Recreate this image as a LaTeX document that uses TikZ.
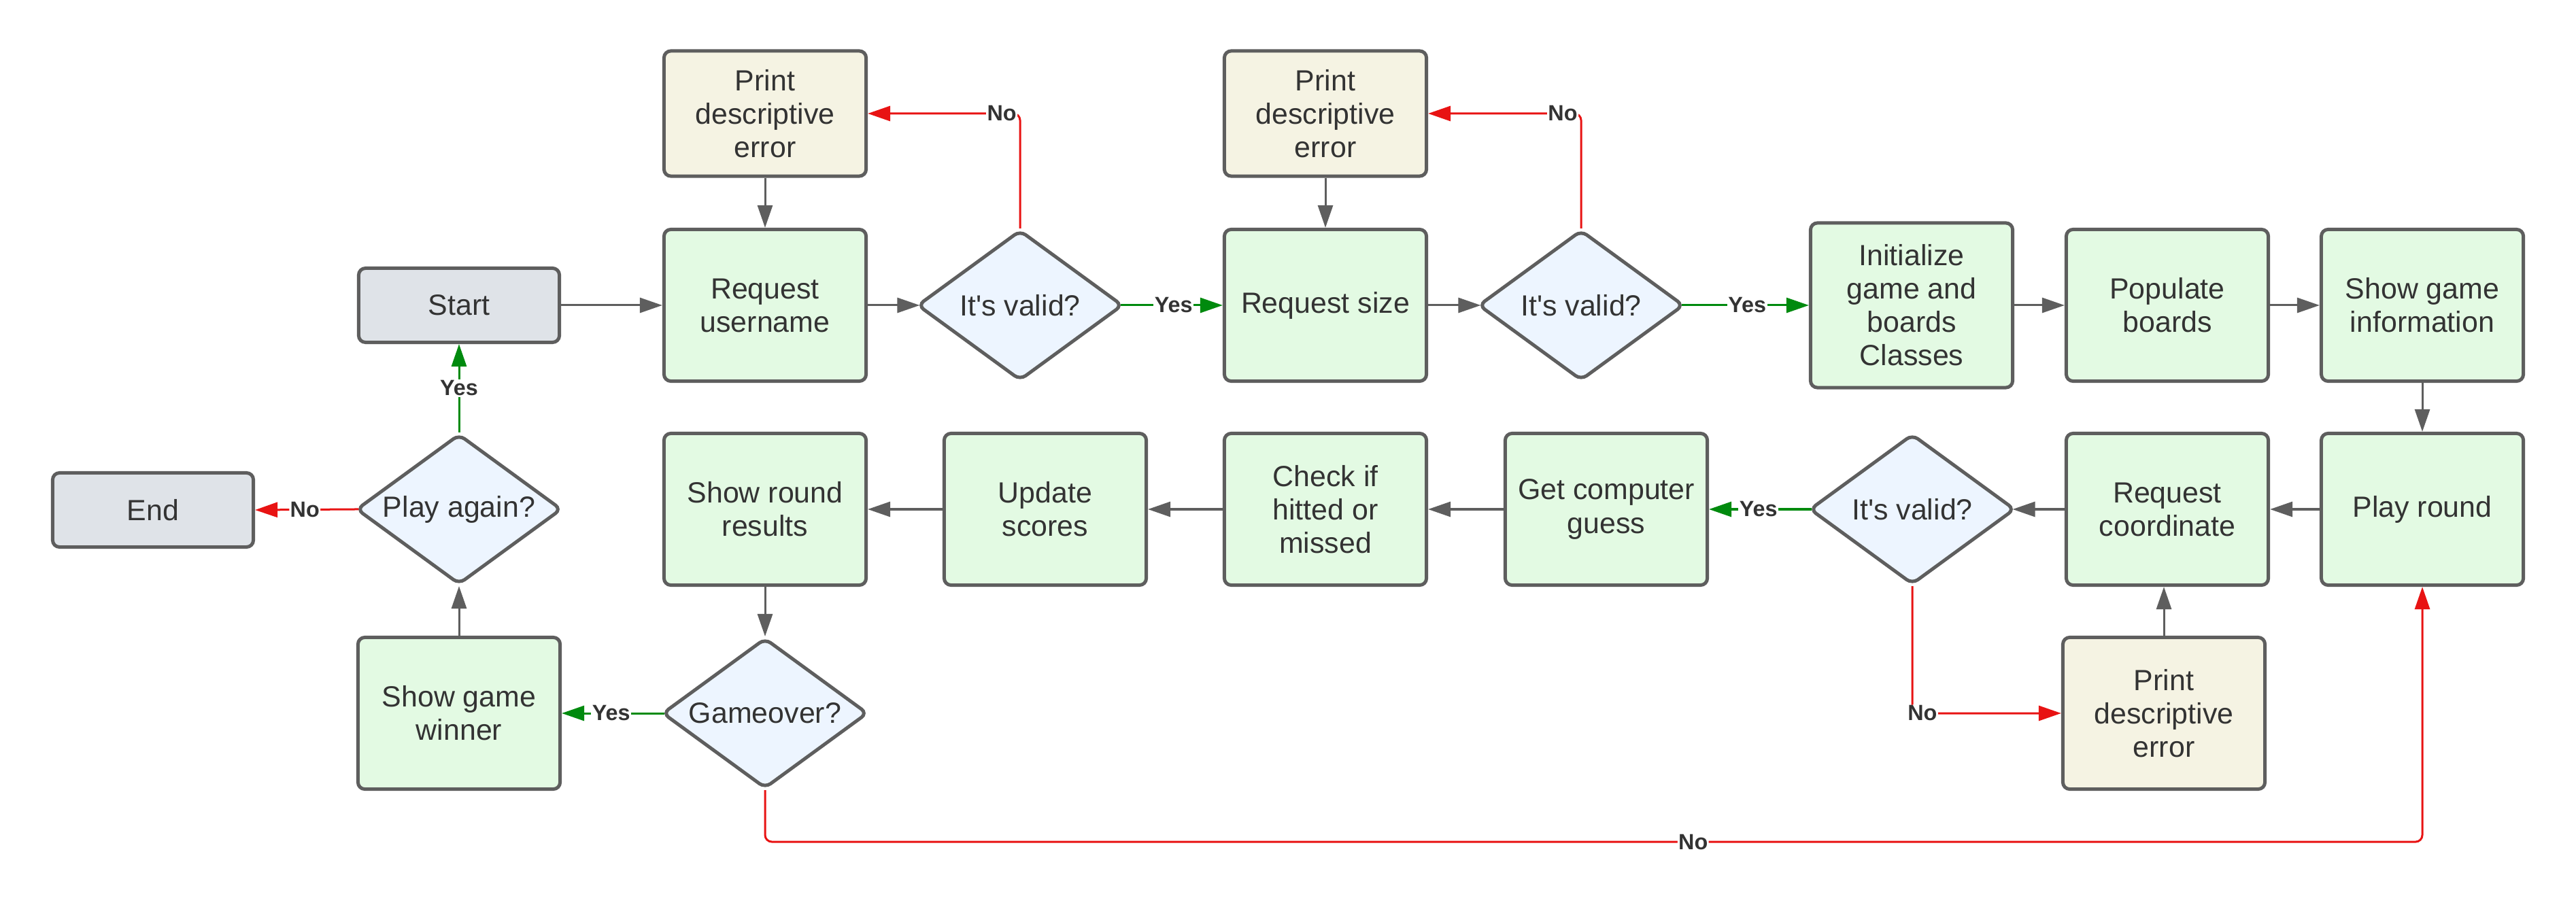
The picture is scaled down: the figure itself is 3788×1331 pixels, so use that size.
\documentclass[tikz,border=0pt]{standalone}
\usepackage{fontspec}
\setmainfont{Liberation Sans}
\usetikzlibrary{shapes.geometric,arrows.meta}
\definecolor{bordc}{HTML}{5E5E5E}
\definecolor{txtc}{HTML}{333333}
\definecolor{greenf}{HTML}{E3FAE3}
\definecolor{beigef}{HTML}{F5F3E3}
\definecolor{bluef}{HTML}{EDF5FF}
\definecolor{grayf}{HTML}{DFE3E8}
\definecolor{redc}{HTML}{E81313}
\definecolor{greenc}{HTML}{008A0E}
\newcommand\boxfont{\fontsize{12.2pt}{13.95pt}\selectfont}
\newcommand\lblfont{\fontsize{9.2pt}{10.5pt}\selectfont\bfseries}
\begin{document}
\begin{tikzpicture}[x=0.01cm,y=-0.01cm,
  box/.style={draw=bordc, line width=0.05cm, rounded corners=0.1cm, inner sep=0pt,
    align=center, text=txtc, font=\boxfont, minimum width=2.97cm, minimum height=2.23cm, fill=greenf},
  errbox/.style={box, fill=beigef},
  termbox/.style={box, fill=grayf, minimum width=2.95cm, minimum height=1.09cm},
  dia/.style={shape=diamond, draw=bordc, line width=0.05cm, rounded corners=0.1cm, inner sep=0pt,
    text=txtc, font=\boxfont, minimum width=3.02cm, minimum height=2.21cm, fill=bluef},
  arr/.style={draw=bordc, line width=0.03cm, -{Triangle[length=0.33cm,width=0.22cm]}},
  rarr/.style={arr, draw=redc, rounded corners=0.1cm},
  garr/.style={arr, draw=greenc},
  lbl/.style={fill=white, inner sep=0.4pt, text=txtc, font=\lblfont},
  fromtip/.style={shorten <=-0.06cm},
  totip/.style={shorten >=-0.06cm}]
\fill[white] (0,0) rectangle (3788,1331);
\useasboundingbox (0,0) rectangle (3788,1331);
% row 0
\node[errbox, minimum height=1.84cm] (e1) at (1125,167) {Print\\descriptive\\error};
\node[errbox, minimum height=1.84cm] (e2) at (1949,167) {Print\\descriptive\\error};
% row 1
\node[termbox] (start) at (675,449) {Start};
\node[box] (ru) at (1125,449) {Request\\username};
\node[dia] (d1) at (1500,449) {\makebox[0pt]{It\textquotesingle s valid?}};
\node[box] (rs) at (1949,449) {Request size};
\node[dia] (d2) at (2325,449) {\makebox[0pt]{It\textquotesingle s valid?}};
\node[box, minimum height=2.42cm] (init) at (2811,449) {Initialize\\game and\\boards\\Classes};
\node[box] (pop) at (3187,449) {Populate\\boards};
\node[box] (sgi) at (3562,449) {Show game\\information};
% row 2
\node[termbox] (end) at (225,750) {End};
\node[dia] (pa) at (675,749) {\makebox[0pt]{Play again?}};
\node[box] (srr) at (1125,749) {Show round\\results};
\node[box] (us) at (1537,749) {Update\\scores};
\node[box] (chk) at (1949,749) {Check if\\hitted or\\missed};
\node[box] (gcg) at (2362,749) {Get computer\\guess};
\node[dia] (d3) at (2812,749) {\makebox[0pt]{It\textquotesingle s valid?}};
\node[box] (rc) at (3187,749) {Request\\coordinate};
\node[box] (pr) at (3562,749) {Play round};
% row 3
\node[box] (sgw) at (675,1049) {Show game\\winner};
\node[dia] (go) at (1125,1049) {\makebox[0pt]{Gameover?}};
\node[errbox] (e3) at (3182,1049) {Print\\descriptive\\error};
% connectors
\draw[arr] (start.east) -- (ru.west);
\draw[arr] (e1.south) -- (ru.north);
\draw[arr, totip] (ru.east) -- (d1.west);
\draw[garr, fromtip] (d1.east) -- node[lbl]{Yes} (rs.west);
\draw[rarr] (d1.north) |- node[lbl, pos=0.56]{No} (e1.east);
\draw[arr] (e2.south) -- (rs.north);
\draw[arr, totip] (rs.east) -- (d2.west);
\draw[rarr] (d2.north) |- node[lbl, pos=0.56]{No} (e2.east);
\draw[garr, fromtip] (d2.east) -- node[lbl]{Yes} (init.west);
\draw[arr] (init.east) -- (pop.west);
\draw[arr] (pop.east) -- (sgi.west);
\draw[arr] (sgi.south) -- (pr.north);
\draw[arr] (pr.west) -- (rc.east);
\draw[arr, totip] (rc.west) -- (d3.east);
\draw[garr, fromtip] (d3.west) -- node[lbl]{Yes} (gcg.east);
\draw[rarr] (d3.south) |- node[lbl, pos=0.534]{No} (e3.west);
\draw[arr] (e3.north) -- (e3.north |- rc.south);
\draw[arr] (gcg.west) -- (chk.east);
\draw[arr] (chk.west) -- (us.east);
\draw[arr] (us.west) -- (srr.east);
\draw[arr] (srr.south) -- (go.north);
\draw[garr, fromtip] (go.west) -- node[lbl]{Yes} (sgw.east);
\draw[rarr] (go.south) -- ++(0,76) -| node[lbl, pos=0.28]{No} (pr.south);
\draw[arr] (sgw.north) -- (pa.south);
\draw[garr] (pa.north) -- node[lbl]{Yes} (start.south);
\draw[rarr, fromtip] (pa.west) -- node[lbl]{No} (end.east);
\end{tikzpicture}
\end{document}
